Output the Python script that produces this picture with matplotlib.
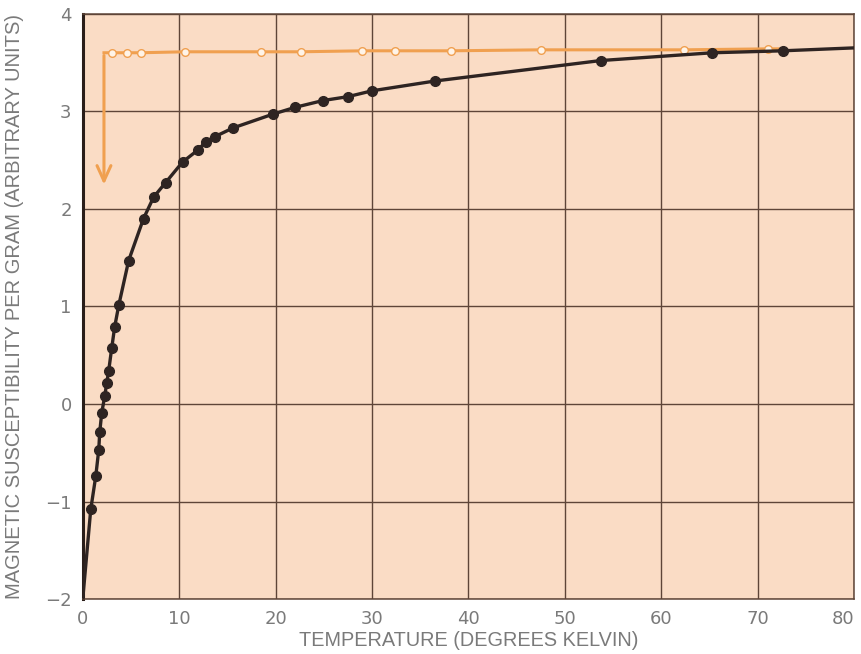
import numpy as np
import matplotlib.pyplot as plt

# susceptibilidad medida (curva negra)
temp = [0.83, 1.35, 1.66, 1.76, 1.97, 2.28, 2.48, 2.69, 3.00, 3.31, 3.73, 4.76,
        6.3, 7.35, 8.6, 10.35, 11.9, 12.8, 13.7, 15.6, 19.7, 22.0, 24.9, 27.5,
        30.0, 36.5, 53.7, 65.3, 72.6]
chi = [-1.08, -0.74, -0.47, -0.29, -0.09, 0.08, 0.21, 0.34, 0.57, 0.79, 1.01, 1.47,
       1.90, 2.12, 2.27, 2.48, 2.60, 2.69, 2.74, 2.83, 2.97, 3.04, 3.11, 3.15,
       3.21, 3.31, 3.52, 3.60, 3.62]
# extremos de la curva
curve_t = [0.0] + temp + [80.0]
curve_chi = [-2.0] + chi + [3.65]

# puntos abiertos (curva naranja)
temp_o = [3.0, 4.55, 6.0, 10.6, 18.5, 22.6, 29.0, 32.4, 38.2, 47.5, 62.3, 71.1]
chi_o = [3.60, 3.60, 3.60, 3.61, 3.61, 3.61, 3.62, 3.62, 3.62, 3.63, 3.63, 3.64]
orange_t = [2.2] + temp_o + [72.5]
orange_chi = [3.60] + chi_o + [3.64]
arrow_t = 2.2
arrow_from, arrow_to = 3.60, 2.22

xticks = list(range(0, 90, 10))
yticks = [-2, -1, 0, 1, 2, 3, 4]
ylabels = ['\u22122', '\u22121', '0', '1', '2', '3', '4']

bg = '#fadcc5'
dark = '#2e2422'
orange = '#f0a050'
grey = '#7a7a7a'

fig = plt.figure(figsize=(8.62, 6.54), dpi=100)
ax = fig.add_axes([0.096, 0.084, 0.895, 0.895])
ax.set_facecolor(bg)

ax.plot(orange_t, orange_chi, color=orange, lw=2.2, zorder=3)
ax.plot(temp_o, chi_o, 'o', ms=5.5, mfc='#fff4e8', mec=orange, mew=1.0, zorder=4)
ax.annotate('', xy=(arrow_t, arrow_to), xytext=(arrow_t, arrow_from),
            arrowprops=dict(arrowstyle='->,head_length=1.1,head_width=0.5',
                            color=orange, lw=2.2), zorder=3)

ax.plot(curve_t, curve_chi, color=dark, lw=2.4, zorder=5)
ax.plot(temp, chi, 'o', ms=7, color=dark, zorder=6)

ax.set_xlim(0, 80)
ax.set_ylim(-2, 4)
ax.set_xticks(xticks)
ax.set_yticks(yticks)
ax.set_yticklabels(ylabels)
ax.grid(True, color='#5e4538', lw=1.0)
ax.set_axisbelow(True)
for s in ax.spines.values():
    s.set_color('#5e4538')
    s.set_linewidth(1.1)
ax.spines['left'].set_color('#2a1e1a')
ax.spines['left'].set_linewidth(2.2)
ax.tick_params(length=0, pad=8, labelsize=13, labelcolor=grey)
for t in ax.get_xticklabels() + ax.get_yticklabels():
    t.set_fontfamily('Liberation Sans Narrow')
ax.get_xticklabels()[-1].set_horizontalalignment('right')

ax.set_xlabel('TEMPERATURE (DEGREES KELVIN)', fontsize=14.3, color=grey,
              fontfamily='Liberation Sans', labelpad=2)
ax.set_ylabel('MAGNETIC SUSCEPTIBILITY PER GRAM (ARBITRARY UNITS)', fontsize=14.5,
              color=grey, fontfamily='Liberation Sans', labelpad=15)

plt.savefig('out.png')
